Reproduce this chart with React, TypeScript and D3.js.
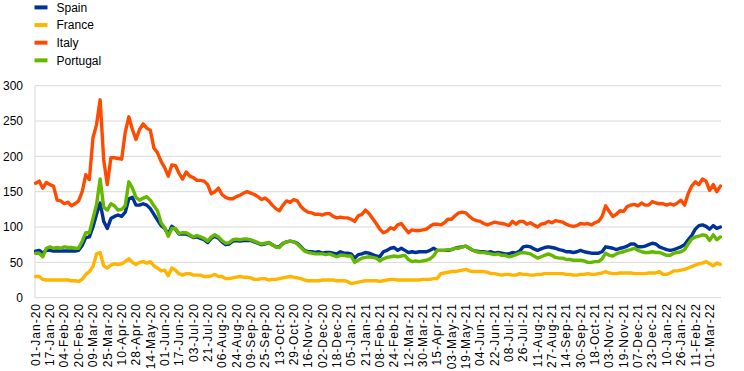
import React from "react";
import * as d3 from "d3";

const SERIES_NAMES = ["Spain", "France", "Italy", "Portugal"];
const SERIES_COLORS = ["#003299", "#FFB400", "#FF4B00", "#65B800"];

// Values sampled every 3rd business day from 01-Jan-20 to mid-Mar-22
const spain = [
  66,67,63,67,67,66,66,66,66,66,66,66,67,74,85,86,100,118,134,108,98,112,115,117,115,121,140,142,131,131,133,131,126,
  118,110,102,98,90,101,97,90,90,90,88,85,86,84,82,78,84,87,84,79,75,76,80,81,80,81,81,81,79,77,75,76,
  78,75,72,72,77,79,80,79,77,72,67,65,65,64,65,63,64,64,63,62,65,63,63,62,56,61,62,64,63,61,59,58,
  65,67,70,71,67,70,67,64,65,64,65,65,65,67,70,67,67,67,67,68,70,71,72,73,70,67,66,65,65,64,65,63,
  64,63,62,62,64,63,66,72,73,72,69,67,69,71,72,71,70,68,67,65,65,64,65,67,65,64,63,63,63,65,72,71,
  70,68,70,71,73,76,76,72,72,73,75,77,76,72,70,68,67,68,70,72,75,82,88,97,102,103,101,97,102,98,100,
];
const france = [
  30,30,26,25,25,25,25,25,25,25,24,24,23,26,33,37,44,62,64,45,42,46,48,47,48,51,55,50,47,50,51,49,51,
  45,42,38,39,31,42,39,34,32,34,34,32,32,32,30,30,31,33,30,30,27,27,28,29,30,29,29,28,26,26,27,27,
  25,26,26,27,28,29,30,29,28,27,25,24,24,24,24,25,25,25,25,24,24,24,23,20,21,22,23,24,24,24,24,23,
  24,25,26,26,25,25,25,25,25,25,25,26,26,26,27,27,34,35,36,37,37,38,39,40,38,37,37,37,37,36,34,34,
  33,32,33,33,32,32,34,33,33,32,32,33,33,34,34,34,34,34,34,33,33,32,32,33,33,34,33,33,34,35,37,35,
  34,34,35,35,35,35,34,34,34,34,35,35,35,37,33,33,35,38,38,39,40,42,44,46,48,49,51,48,45,49,47,
];
const italy = [
  162,165,155,163,160,158,138,137,133,135,130,133,137,150,174,167,226,245,280,195,160,198,198,197,196,234,256,238,224,238,246,240,237,
  212,205,193,184,172,188,187,176,168,178,172,170,166,166,165,160,147,150,155,146,142,140,140,143,145,148,150,148,146,143,139,141,
  137,131,126,123,131,137,135,139,137,129,124,121,120,118,118,117,119,119,115,113,114,113,113,111,108,116,118,124,119,112,105,97,
  92,94,99,97,103,105,98,92,96,95,95,96,97,101,104,104,103,106,111,111,116,120,121,120,115,111,109,108,105,103,105,107,
  106,105,104,102,108,104,108,108,104,106,103,100,104,105,108,106,109,108,107,104,102,101,102,105,104,105,103,106,108,115,130,122,
  115,118,123,122,129,131,132,130,134,131,131,136,134,133,133,131,133,131,134,138,131,147,158,164,160,168,165,152,160,150,158,
];
const portugal = [
  63,63,58,70,72,70,71,70,72,71,71,70,70,80,92,92,112,132,168,128,124,133,130,124,125,130,164,155,142,138,141,143,138,
  130,123,106,99,87,98,98,91,92,92,89,86,88,86,84,80,86,89,86,81,77,78,82,83,82,83,83,82,80,78,76,77,
  78,75,72,71,77,79,80,79,76,71,66,64,63,62,62,62,61,62,60,58,60,60,59,59,50,53,56,57,58,57,56,52,
  55,57,58,59,58,59,60,54,51,52,51,52,53,55,59,67,67,67,68,68,70,70,72,73,70,67,65,64,64,63,62,61,
  62,60,60,58,59,61,63,64,63,62,59,56,58,60,62,60,57,56,56,54,54,53,53,53,52,50,50,51,51,55,63,60,
  59,62,64,65,67,68,70,67,65,64,64,65,64,64,62,60,60,63,64,65,68,76,83,86,87,89,88,81,89,82,86,
];

const TICK_LABELS = [
  "01-Jan-20","17-Jan-20","04-Feb-20","20-Feb-20","09-Mar-20","25-Mar-20","10-Apr-20","28-Apr-20",
  "14-May-20","01-Jun-20","17-Jun-20","03-Jul-20","21-Jul-20","06-Aug-20","24-Aug-20","09-Sep-20",
  "25-Sep-20","13-Oct-20","29-Oct-20","16-Nov-20","02-Dec-20","18-Dec-20","05-Jan-21","21-Jan-21",
  "08-Feb-21","24-Feb-21","12-Mar-21","30-Mar-21","15-Apr-21","03-May-21","19-May-21","04-Jun-21",
  "22-Jun-21","08-Jul-21","26-Jul-21","11-Aug-21","27-Aug-21","14-Sep-21","30-Sep-21","18-Oct-21",
  "03-Nov-21","19-Nov-21","07-Dec-21","23-Dec-21","10-Jan-22","26-Jan-22","11-Feb-22","01-Mar-22",
];
const Y_TICKS = [0, 50, 100, 150, 200, 250, 300];

const N_DAYS = 574; // business days on the category axis
const SAMPLE_STEP = 3; // business days between stored values
const TICK_STEP = 12; // business days between tick labels

const FONT = "'Liberation Sans', Arial, sans-serif";

export default function App() {
  const W = 744, H = 371;
  const left = 35, right = 721, top = 85.7, bottom = 297.7;

  const x = d3.scaleLinear().domain([0, N_DAYS]).range([left, right]);
  const y = d3.scaleLinear().domain([0, 300]).range([bottom, top]);

  const line = d3
    .line<number>()
    .x((_, k) => x(k * SAMPLE_STEP + 0.5))
    .y((d) => y(d));

  const series = [spain, france, italy, portugal];

  return (
    <svg
      width={W}
      height={H}
      style={{ position: "absolute", left: 0, top: 0, background: "#fff" }}
      fontFamily={FONT}
    >
      {Y_TICKS.map((t) => (
        <line key={t} x1={left} x2={right} y1={y(t)} y2={y(t)} stroke="#D9D9D9" strokeWidth={1} />
      ))}
      <line x1={left} x2={left} y1={top} y2={bottom} stroke="#D9D9D9" strokeWidth={1} />

      {Y_TICKS.map((t) => (
        <text key={t} x={23} y={y(t)} dy="0.35em" textAnchor="end" fontSize={12} fill="#000">
          {t}
        </text>
      ))}

      {TICK_LABELS.map((lab, j) => {
        const xx = x(j * TICK_STEP + 0.5);
        return (
          <text
            key={lab}
            transform={`translate(${xx},303) rotate(-90)`}
            dy="0.35em"
            textAnchor="end"
            fontSize={12}
            letterSpacing={1}
            fill="#000"
          >
            {lab}
          </text>
        );
      })}

      {series.map((s, i) => (
        <path
          key={SERIES_NAMES[i]}
          d={line(s) || ""}
          fill="none"
          stroke={SERIES_COLORS[i]}
          strokeWidth={3.4}
          strokeLinejoin="round"
          strokeLinecap="round"
        />
      ))}

      {SERIES_NAMES.map((name, i) => {
        const cy = 7.4 + i * 17.65;
        return (
          <g key={name}>
            <rect x={34.5} y={cy - 2} width={13} height={4} fill={SERIES_COLORS[i]} />
            <text x={56.5} y={cy} dy="0.35em" fontSize={12} fill="#000">
              {name}
            </text>
          </g>
        );
      })}
    </svg>
  );
}
